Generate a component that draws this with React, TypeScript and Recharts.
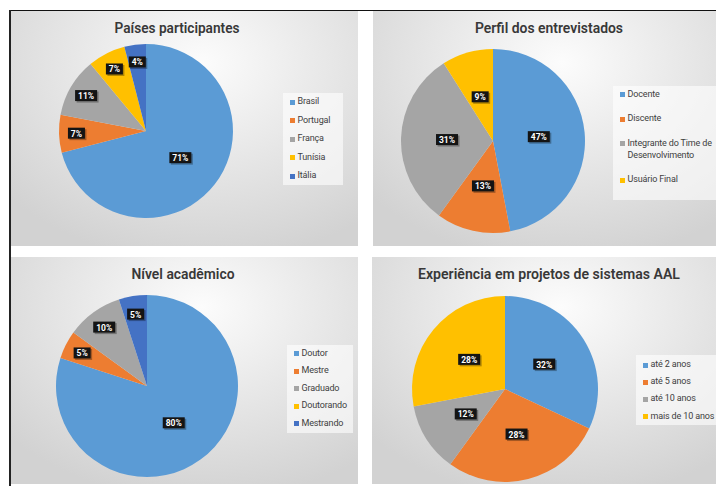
import React from 'react';
import {PieChart, Pie, Cell, Legend} from 'recharts';

const paisesNames = ['Brasil', 'Portugal', 'França', 'Tunísia', 'Itália'];
const paisesValues = [71, 7, 11, 7, 4];

const perfilNames = ['Docente', 'Discente', 'Integrante do Time de Desenvolvimento', 'Usuário Final'];
const perfilValues = [47, 13, 31, 9];

const nivelNames = ['Doutor', 'Mestre', 'Graduado', 'Doutorando', 'Mestrando'];
const nivelValues = [80, 5, 10, 0, 5];

const expNames = ['até 2 anos', 'até 5 anos', 'até 10 anos', 'mais de 10 anos'];
const expValues = [32, 28, 12, 28];

const COLORS = ['#5B9BD5', '#ED7D31', '#A5A5A5', '#FFC000', '#4472C4'];
const RAD = Math.PI / 180;

type PanelCfg = {
  title: string;
  titleX: number;
  titleW: number;
  names: string[];
  values: number[];
  x: number;
  y: number;
  w: number;
  h: number;
  cx: number;
  cy: number;
  r: number;
  legend: {left: number; top: number; width: number; height: number; gap: number; padTop: number; wrap: boolean};
};

const panels: PanelCfg[] = [
  {
    title: 'Países participantes', titleX: 167, titleW: 125,
    names: paisesNames, values: paisesValues,
    x: 10, y: 11, w: 348, h: 235, cx: 136, cy: 120, r: 87,
    legend: {left: 273, top: 82, width: 60, height: 92, gap: 6.8, padTop: 3, wrap: false},
  },
  {
    title: 'Perfil dos entrevistados', titleX: 176, titleW: 148,
    names: perfilNames, values: perfilValues,
    x: 373, y: 11, w: 343, h: 235, cx: 120, cy: 130, r: 92,
    legend: {left: 240, top: 75, width: 103, height: 114, gap: 13, padTop: 2.5, wrap: true},
  },
  {
    title: 'Nível acadêmico', titleX: 173, titleW: 103,
    names: nivelNames, values: nivelValues,
    x: 10, y: 257, w: 348, h: 227, cx: 137, cy: 129, r: 91,
    legend: {left: 277, top: 88, width: 66, height: 88, gap: 5.8, padTop: 2.5, wrap: false},
  },
  {
    title: 'Experiência em projetos de sistemas AAL', titleX: 177, titleW: 262,
    names: expNames, values: expValues,
    x: 372, y: 257, w: 344, h: 227, cx: 133, cy: 132, r: 93,
    legend: {left: 264, top: 98, width: 80, height: 70, gap: 5.5, padTop: 4, wrap: false},
  },
];

function renderLabel(props: any) {
  const {cx, cy, midAngle, outerRadius, percent} = props;
  if (!percent) return null;
  const text = `${Math.round(percent * 100)}%`;
  const w = text.length * 5 + 7;
  const h = 11;
  // keep label at half radius when it fits in the slice, else push it outward
  const arc = percent * 2 * Math.PI * 0.5 * outerRadius;
  const t = arc >= w + 8.5 ? 0.5 : 0.8;
  const x = cx + outerRadius * t * Math.cos(-midAngle * RAD);
  const y = cy + outerRadius * t * Math.sin(-midAngle * RAD);
  return (
    <g>
      <rect x={x - w / 2 + 1.5} y={y - h / 2 + 1.5} width={w} height={h} fill="rgba(0,0,0,0.3)" />
      <rect x={x - w / 2} y={y - h / 2} width={w} height={h} fill="#141414" />
      <text
        x={x}
        y={y + 0.5}
        textAnchor="middle"
        dominantBaseline="central"
        fill="#ffffff"
        fontSize={8.5}
        fontWeight={700}
        fontFamily="Roboto, sans-serif"
      >
        {text}
      </text>
    </g>
  );
}

function Panel({cfg}: {cfg: PanelCfg}) {
  const data = cfg.names.map((name, i) => ({name, value: cfg.values[i]}));
  const lg = cfg.legend;
  return (
    <div
      style={{
        position: 'absolute',
        left: cfg.x,
        top: cfg.y,
        width: cfg.w,
        height: cfg.h,
        background:
          'radial-gradient(ellipse 75% 85% at 55% 22%, #fcfcfc 0%, #ebebeb 40%, #d2d2d2 100%)',
      }}
    >
      <PieChart width={cfg.w} height={cfg.h} margin={{top: 0, right: 0, bottom: 0, left: 0}}>
        <text
          x={cfg.titleX}
          y={22}
          textAnchor="middle"
          fontSize={15}
          fontWeight={600}
          fill="#383838"
          fontFamily="Roboto, sans-serif"
          textLength={cfg.titleW}
          lengthAdjust="spacingAndGlyphs"
        >
          {cfg.title}
        </text>
        <Pie
          data={data}
          dataKey="value"
          nameKey="name"
          cx={cfg.cx}
          cy={cfg.cy}
          outerRadius={cfg.r}
          startAngle={90}
          endAngle={-270}
          stroke="none"
          label={renderLabel}
          labelLine={false}
          isAnimationActive={false}
        >
          {data.map((d, i) => (
            <Cell key={d.name} fill={COLORS[i]} />
          ))}
        </Pie>
        <Legend
          layout="vertical"
          align="right"
          verticalAlign="top"
          wrapperStyle={{left: lg.left, top: lg.top, width: lg.width, height: lg.height, right: 'auto', bottom: 'auto'}}
          content={() => (
            <div
              style={{
                width: lg.width,
                height: lg.height,
                boxSizing: 'border-box',
                paddingTop: lg.padTop,
                background: 'rgba(255,255,255,0.6)',
                display: 'flex',
                flexDirection: 'column',
                gap: lg.gap,
                fontFamily: 'Roboto, sans-serif',
                fontSize: 9,
                letterSpacing: -0.15,
                lineHeight: '11.7px',
                color: '#404040',
              }}
            >
              {cfg.names.map((name, i) => (
                <div key={name} style={{display: 'flex', alignItems: 'flex-start', paddingLeft: 7}}>
                  <span
                    style={{
                      width: 5,
                      height: 5,
                      marginTop: 3.5,
                      marginRight: 2.5,
                      background: COLORS[i],
                      flex: 'none',
                    }}
                  />
                  <span style={{whiteSpace: lg.wrap ? 'normal' : 'nowrap', width: lg.wrap ? 90 : 'auto'}}>{name}</span>
                </div>
              ))}
            </div>
          )}
        />
      </PieChart>
    </div>
  );
}

export default function App() {
  return (
    <div style={{position: 'absolute', left: 0, top: 0, width: 716, height: 486, background: '#ffffff', overflow: 'hidden'}}>
      {panels.map(p => (
        <Panel key={p.title} cfg={p} />
      ))}
      <div style={{position: 'absolute', left: 9, top: 9.5, width: 707, height: 1.5, background: '#111'}} />
      <div style={{position: 'absolute', left: 9, top: 10, width: 1.5, height: 476, background: '#222'}} />
    </div>
  );
}
